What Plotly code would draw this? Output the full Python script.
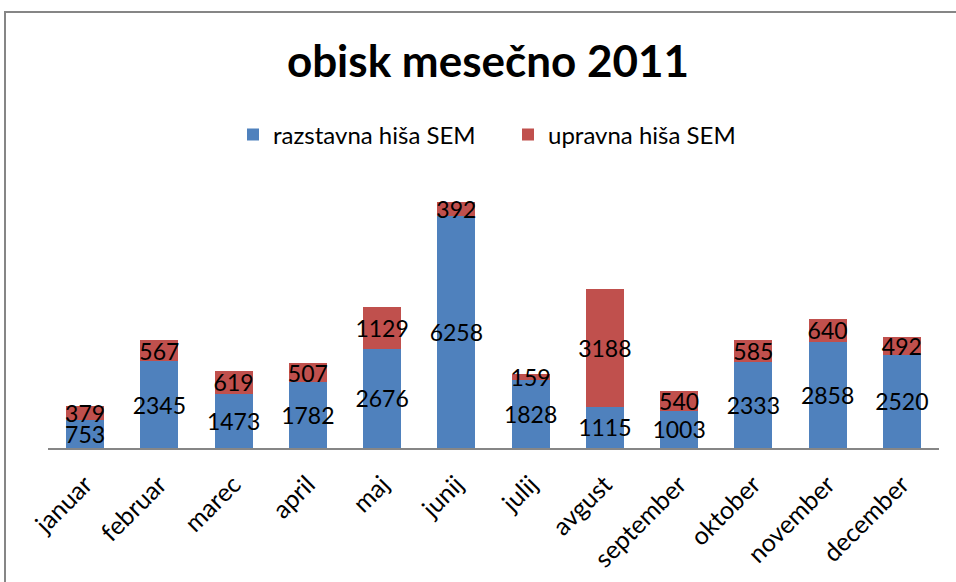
import plotly.graph_objects as go

months = ["januar", "februar", "marec", "april", "maj", "junij", "julij",
          "avgust", "september", "oktober", "november", "december"]
razstavna = [753, 2345, 1473, 1782, 2676, 6258, 1828, 1115, 1003, 2333, 2858, 2520]
upravna = [379, 567, 619, 507, 1129, 392, 159, 3188, 540, 585, 640, 492]

FONT = "Lato"
BLUE = "#4F81BD"
RED = "#C0504D"

fig = go.Figure()
fig.add_trace(go.Bar(x=months, y=razstavna, name="razstavna hiša SEM",
                     marker=dict(color=BLUE, line=dict(width=0)),
                     text=razstavna, texttemplate="%{text}", textposition="inside",
                     insidetextanchor="middle", textangle=0,
                     textfont=dict(family=FONT, size=23, color="black")))
fig.add_trace(go.Bar(x=months, y=upravna, name="upravna hiša SEM",
                     marker=dict(color=RED, line=dict(width=0)),
                     text=upravna, texttemplate="%{text}", textposition="inside",
                     insidetextanchor="middle", textangle=0,
                     textfont=dict(family=FONT, size=23, color="black")))

L, R, T, B = 48, 17, 189, 134
pw = 956 - L - R
ph = 582 - T - B

fig.update_layout(
    width=956, height=582,
    barmode="stack", bargap=0.49,
    margin=dict(l=L, r=R, t=T, b=B, autoexpand=False),
    paper_bgcolor="white", plot_bgcolor="white",
    uniformtext=dict(minsize=23, mode="show"),
    title=dict(text="<b>obisk mesečno 2011</b>", x=488/956, xref="container", xanchor="center",
               y=1 - 62/582, yref="container", yanchor="middle",
               font=dict(family=FONT, size=44, color="black")),
    legend=dict(orientation="h", x=(233 - L)/pw, xanchor="left", y=(448 - 135)/ph, yanchor="middle",
                font=dict(family=FONT, size=24, color="black"), traceorder="normal",
                entrywidth=230, entrywidthmode="pixels",
                bgcolor="rgba(0,0,0,0)"),
    xaxis=dict(showline=True, linecolor="#868686", linewidth=2, ticks="",
               tickangle=-45, tickfont=dict(family=FONT, size=25, color="black"),
               ticklabelstandoff=10, automargin=False,
               showgrid=False, zeroline=False),
    yaxis=dict(range=[0, 7000], visible=False, showgrid=False, zeroline=False, automargin=False),
    font=dict(family=FONT),
    shapes=[dict(type="rect", xref="paper", yref="paper",
                 x0=(5 - L)/pw, x1=(980 - L)/pw, y0=(448 - 600)/ph, y1=(448 - 12)/ph,
                 line=dict(color="#868686", width=2), fillcolor="rgba(0,0,0,0)", layer="below")],
)

fig.write_html("out.html", config={"displayModeBar": False},
               post_script="document.body.style.margin='0';document.body.style.overflow='hidden';")
